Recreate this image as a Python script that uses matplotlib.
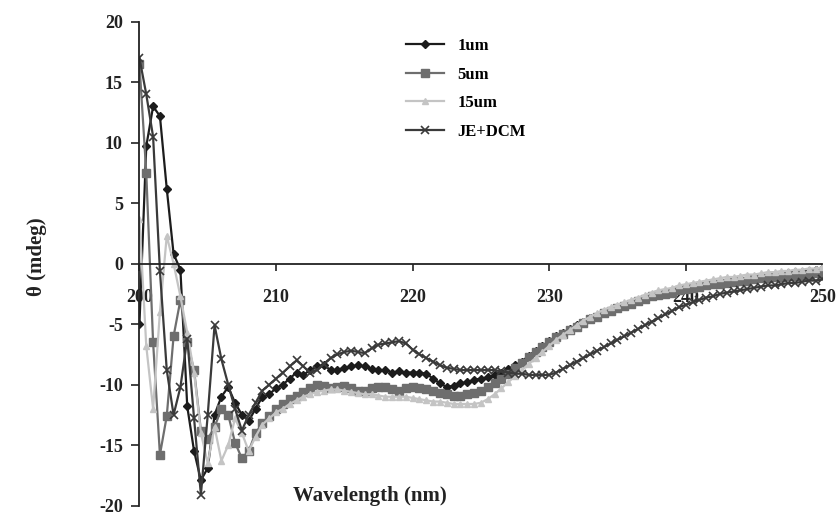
import numpy as np
import matplotlib
matplotlib.use("Agg")
import matplotlib.pyplot as plt

# ---------------------------------------------------------------------------
# data (0.5 nm steps 200-250 nm)
# ---------------------------------------------------------------------------

wavelength = np.arange(200.0, 250.5, 0.5)

cd_1um = [
    -5.0, 9.7, 13.0, 12.2, 6.2, 0.8, -0.5, -11.8, -15.5, -17.9,
    -16.9, -12.5, -11.0, -10.2, -11.5, -12.5, -13.0, -12.0, -11.0, -10.8,
    -10.3, -10.0, -9.5, -9.0, -9.2, -8.8, -8.5, -8.4, -8.8, -8.8,
    -8.6, -8.5, -8.4, -8.5, -8.7, -8.8, -8.8, -9.0, -8.9, -9.0,
    -9.0, -9.0, -9.1, -9.5, -9.9, -10.2, -10.1, -9.9, -9.8, -9.6,
    -9.5, -9.4, -9.2, -9.0, -8.7, -8.4, -8.1, -7.6, -7.2, -6.8,
    -6.4, -6.0, -5.7, -5.4, -5.1, -4.8, -4.5, -4.3, -4.1, -3.9,
    -3.7, -3.5, -3.3, -3.1, -2.9, -2.7, -2.6, -2.4, -2.3, -2.2,
    -2.1, -2.0, -1.9, -1.8, -1.7, -1.6, -1.5, -1.4, -1.3, -1.3,
    -1.2, -1.1, -1.0, -1.0, -0.9, -0.8, -0.7, -0.7, -0.6, -0.5,
    -0.4,
]

cd_5um = [
    16.5, 7.5, -6.5, -15.8, -12.6, -6.0, -3.0, -6.5, -8.8, -13.8,
    -14.5, -13.5, -12.0, -12.5, -14.8, -16.1, -15.5, -14.0, -13.2, -12.6,
    -12.0, -11.6, -11.2, -10.9, -10.6, -10.3, -10.0, -10.1, -10.3, -10.2,
    -10.1, -10.3, -10.5, -10.5, -10.3, -10.2, -10.2, -10.4, -10.5, -10.3,
    -10.2, -10.3, -10.4, -10.5, -10.7, -10.8, -10.9, -10.9, -10.8, -10.7,
    -10.5, -10.2, -9.9, -9.5, -9.1, -8.6, -8.2, -7.7, -7.3, -6.9,
    -6.5, -6.1, -5.8, -5.5, -5.2, -4.9, -4.6, -4.4, -4.1, -3.9,
    -3.7, -3.5, -3.3, -3.1, -2.9, -2.7, -2.6, -2.5, -2.4, -2.2,
    -2.1, -2.0, -1.9, -1.8, -1.7, -1.7, -1.6, -1.5, -1.4, -1.4,
    -1.3, -1.2, -1.2, -1.1, -1.1, -1.0, -1.0, -0.9, -0.9, -0.8,
    -0.8,
]

cd_15um = [
    3.7, -6.8, -12.0, -4.0, 2.3, 0.0, -2.7, -5.7, -9.0, -14.0,
    -16.5, -13.5, -16.3, -15.0, -12.8, -14.0, -15.5, -14.3, -13.3, -12.8,
    -12.3, -12.0, -11.6, -11.3, -11.0, -10.8, -10.6, -10.5, -10.4, -10.4,
    -10.5, -10.6, -10.7, -10.8, -10.8, -10.9, -11.0, -11.0, -11.0, -11.0,
    -11.1, -11.2, -11.3, -11.4, -11.4, -11.5, -11.6, -11.6, -11.6, -11.6,
    -11.5, -11.2, -10.8, -10.3, -9.8, -9.3, -8.8, -8.3, -7.8, -7.3,
    -6.8, -6.3, -5.9, -5.5, -5.1, -4.7, -4.4, -4.1, -3.8, -3.6,
    -3.4, -3.2, -3.0, -2.8, -2.6, -2.4, -2.2, -2.1, -2.0, -1.8,
    -1.7, -1.6, -1.5, -1.4, -1.3, -1.2, -1.1, -1.1, -1.0, -0.9,
    -0.9, -0.8, -0.7, -0.7, -0.6, -0.6, -0.5, -0.5, -0.4, -0.4,
    -0.3,
]

cd_je_dcm = [
    17.0, 14.0, 10.5, -0.6, -8.8, -12.5, -10.2, -6.2, -12.8, -19.1,
    -12.5, -5.1, -7.9, -10.0, -12.0, -13.8, -12.5, -11.5, -10.5, -10.0,
    -9.5, -9.0, -8.5, -8.0, -8.5, -9.0, -8.8, -8.3, -7.8, -7.5,
    -7.3, -7.2, -7.3, -7.4, -7.0, -6.7, -6.6, -6.5, -6.4, -6.6,
    -7.1, -7.5, -7.8, -8.1, -8.4, -8.6, -8.7, -8.8, -8.8, -8.8,
    -8.8, -8.8, -8.8, -8.9, -9.0, -9.1, -9.1, -9.2, -9.2, -9.2,
    -9.2, -9.0, -8.7, -8.4, -8.1, -7.8, -7.5, -7.2, -6.9, -6.6,
    -6.3, -6.0, -5.7, -5.4, -5.1, -4.8, -4.5, -4.2, -3.9, -3.6,
    -3.4, -3.2, -3.0, -2.8, -2.7, -2.5, -2.4, -2.3, -2.2, -2.1,
    -2.0, -1.9, -1.8, -1.8, -1.7, -1.6, -1.6, -1.5, -1.4, -1.4,
    -1.3,
]

series_labels = ['1um', '5um', '15um', 'JE+DCM']
x_ticks = [200, 210, 220, 230, 240, 250]
y_ticks = [-20, -15, -10, -5, 0, 5, 10, 15, 20]

# ---------------------------------------------------------------------------
# plot
# ---------------------------------------------------------------------------

plt.rcParams['font.family'] = ['Liberation Serif', 'DejaVu Serif']
plt.rcParams['font.weight'] = 'bold'
plt.rcParams['axes.unicode_minus'] = False   # plain hyphen like the original

fig = plt.figure(figsize=(8.4, 5.18), dpi=100)
ax = fig.add_axes([0.166, 0.024, 0.813, 0.934])

styles = [
    dict(color='#1c1c1c', marker='D', ms=4.5),
    dict(color='#6e6e6e', marker='s', ms=5.5),
    dict(color='#c4c4c4', marker='^', ms=5),
    dict(color='#3a3a3a', marker='x', ms=6, mew=1.2),
]
all_data = [cd_1um, cd_5um, cd_15um, cd_je_dcm]

for vals, lab, st in zip(all_data, series_labels, styles):
    ax.plot(wavelength, vals, label=lab, lw=1.6, **st)

ax.set_xlim(200, 250)
ax.set_ylim(-20, 20)
ax.set_xticks(x_ticks)
ax.set_yticks(y_ticks)

# x axis sits on the zero line, like the Excel original
ax.spines['bottom'].set_position(('data', 0))
ax.spines['top'].set_visible(False)
ax.spines['right'].set_visible(False)
for s in ['left', 'bottom']:
    ax.spines[s].set_linewidth(1.3)
    ax.spines[s].set_color('#222222')

ax.tick_params(axis='x', direction='out', length=5, width=1.2, pad=13,
               labelsize=13, colors='#222222')
ax.tick_params(axis='y', direction='out', length=6, width=1.2, pad=6,
               labelsize=13, colors='#222222')

fig.text(0.044, 0.505, 'θ (mdeg)', rotation=90, ha='center', va='center',
         fontsize=15, fontweight='bold', color='#222222')
fig.text(0.44, 0.042, 'Wavelength (nm)', ha='center', va='center',
         fontsize=15, fontweight='bold', color='#222222')

leg = ax.legend(loc='upper left', bbox_to_anchor=(0.465, 0.955),
                bbox_transform=fig.transFigure, frameon=False,
                fontsize=12, handlelength=2.3, handletextpad=0.8,
                labelspacing=0.75)

fig.savefig('out.png', dpi=100, facecolor='white')
